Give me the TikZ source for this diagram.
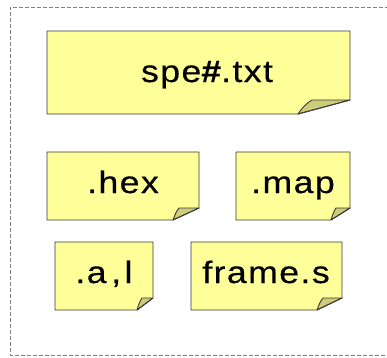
\documentclass[tikz,border=0pt]{standalone}
\usepackage{fontspec}
\setmainfont{Liberation Sans}[LetterSpace=4,FakeBold=0.4]
\definecolor{notefill}{HTML}{FFFF99}
\definecolor{foldfill}{HTML}{CCCC7A}
\definecolor{noteline}{HTML}{3A3A3A}
\newcommand\widetext[1]{\scalebox{1.15}[1]{#1}}
\tikzset{
  notebody/.style={fill=notefill},
  notefold/.style={fill=foldfill, draw=noteline, line width=0.9pt, line join=round},
  noteedge/.style={draw=noteline, line width=0.9pt, line join=miter},
  notetext/.style={anchor=base, inner sep=0pt, font=\fontsize{31}{37}\selectfont},
  frameline/.style={draw=gray, line width=0.8pt, dash pattern=on 4pt off 2pt}
}
% #1 x1, #2 y1, #3 x2, #4 y2, #5 fold x on bottom, #6 fold y on right, #7 inner fold x
\newcommand\stickynote[7]{%
  \fill[notebody] (#1,#2) -- (#3,#2) -- (#3,#6) -- (#5,#4) -- (#1,#4) -- cycle;
  \filldraw[notefold] (#5,#4) .. controls ({#5+0.35*(#7-#5)},{#4-0.55*(#4-#6)}) and ({#7-0.2*(#7-#5)},{#6+0.1*(#4-#6)}) .. (#7,#6) -- (#3,#6) -- cycle;
  \draw[noteedge] (#5,#4) -- (#1,#4) -- (#1,#2) -- (#3,#2) -- (#3,#6) -- cycle;
}
\begin{document}
\begin{tikzpicture}[x=1pt,y=-1pt]
\useasboundingbox (0,0) rectangle (387,357);
\draw[frameline] (395,7) -- (10,7) -- (10,355) -- (395,355);
\stickynote{47}{31}{350}{114}{298}{100}{312}
\stickynote{47}{152}{199}{220}{173}{208}{179}
\stickynote{236}{152}{350}{220}{331}{208}{336}
\stickynote{55}{242}{153}{310}{137}{298}{142}
\stickynote{191}{242}{342}{310}{317}{298}{323}
\node[notetext] (spe) at (207,82) {\widetext{spe{\bfseries\#}.txt}};
\node[notetext] (hex) at (123,193) {\widetext{.hex}};
\node[notetext] (map) at (293,193) {\widetext{.map}};
\node[notetext] (al) at (104,283) {\widetext{.a\kern4pt,\kern3pt l}};
\node[notetext] (frame) at (266,283) {\widetext{frame.s}};
\end{tikzpicture}
\end{document}
